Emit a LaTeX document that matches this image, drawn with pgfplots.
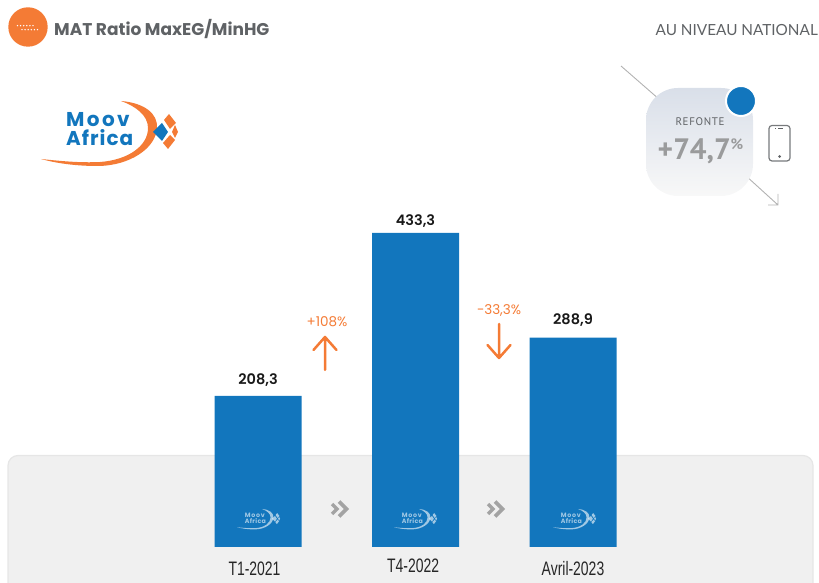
\documentclass[border=0pt]{standalone}
\usepackage{fontspec}
\setmainfont{Poppins}
\newfontfamily\semifont{Poppins SemiBold}
\newfontfamily\narrowfont[FakeStretch=0.715]{Liberation Sans}
\newfontfamily\latofont{Lato}
\newfontfamily\cardfont{PT Sans}
\newfontfamily\spacedfont[LetterSpace=6]{PT Sans}
\newfontfamily\logofont[LetterSpace=12]{Poppins}
\newfontfamily\logofontb[LetterSpace=5]{Poppins}
\usepackage{pgfplots}
\pgfplotsset{compat=1.18}
\usepackage{pgfplotstable}

\definecolor{barblue}{HTML}{1276BD}
\definecolor{moovorange}{HTML}{F47B35}
\definecolor{titlegrey}{HTML}{5F6265}
\definecolor{panelgrey}{HTML}{F0F0F0}
\definecolor{panelline}{HTML}{E6E6E6}
\definecolor{chevgrey}{HTML}{A3A3A3}
\definecolor{pctgrey}{HTML}{9A9B9C}
\definecolor{cardA}{HTML}{D9DFE9}
\definecolor{cardB}{HTML}{F8F8F8}

\pgfplotstableread{
x y dy
0 208.3 6
1 433.3 2
2 288.9 8
}\ratiotable

% logo drawn in picture pixels, #1 swoosh colour, #2 letters and diamond
\newcommand{\moovlogo}[2]{%
  \fill[#1] (121,101) .. controls (145,103) and (158,114) .. (157,128)
    .. controls (156,148) and (130,166) .. (97,166)
    .. controls (75,166) and (55,163) .. (41,159)
    .. controls (60,161) and (80,163) .. (100,162)
    .. controls (128,160) and (148,146) .. (148,128)
    .. controls (148,115) and (135,106) .. (121,101) -- cycle;
  \fill[#1] (169,114) -- (176,123) -- (170,129) -- (164,120) -- cycle;
  \fill[#1] (175,125) -- (178,132) -- (175,138) -- (172,132) -- cycle;
  \fill[#1] (170,135) -- (175,140) -- (168,149) -- (163,143) -- cycle;
  \fill[#2] (162,123) -- (168,132) -- (162,141) -- (153,132) -- cycle;
  \node[text=#2,anchor=west,inner sep=0pt,font=\logofont\bfseries\fontsize{20}{20}\selectfont] at (66,120) {Moov};
  \node[text=#2,anchor=west,inner sep=0pt,font=\logofontb\bfseries\fontsize{20}{20}\selectfont] at (66,138) {Africa};
}
\newcommand{\watermark}[1]{%
  \begin{scope}[shift={(#1,509)},scale=0.314,shift={(-41,-101)},transform shape,opacity=0.6]
    \moovlogo{white}{white}
  \end{scope}
}
\newcommand{\chevrons}[1]{%
  \begin{scope}[shift={(#1,0)}]
    \draw[chevgrey,line width=3.2pt] (332,504) -- (337,509) -- (332,514);
    \draw[chevgrey,line width=3.6pt] (339,501.5) -- (346.5,509) -- (339,516.5);
  \end{scope}
}

\begin{document}
\begin{tikzpicture}
\useasboundingbox (0,0) rectangle (819pt,583pt);

% panel behind the bars
\begin{scope}[x=1pt,y=-1pt,yshift=583pt]
\draw[panelline,fill=panelgrey,line width=1.2pt,rounded corners=10pt]
  (8,590) -- (8,455.5) -- (813,455.5) -- (813,590);
\end{scope}

\begin{axis}[
  at={(100.5pt,36pt)}, anchor=south west,
  scale only axis, width=630pt, height=362.5pt,
  xmin=-1, xmax=3, ymin=0, ymax=500,
  clip=false,
  axis y line=none,
  axis x line*=bottom,
  x axis line style={draw=none},
  xtick style={draw=none},
  xtick={-0.022,0.985,2},
  xticklabels={T1-2021,\raisebox{3pt}{T4-2022},Avril-2023},
  xticklabel style={anchor=base,yshift=-24pt,text=black!85,font=\narrowfont\fontsize{19.5}{20}\selectfont},
  ybar, bar width=87pt,
  nodes near coords,
  visualization depends on={\thisrow{dy} \as \dy},
  every node near coord/.append style={yshift=\dy pt,font=\semifont\fontsize{14.5}{15}\selectfont,text=black!90},
  /pgf/number format/.cd, fixed, fixed zerofill, precision=1, use comma, assume math mode=true,
]
\addplot[fill=barblue,draw=none] table[x=x,y=y] {\ratiotable};
\end{axis}

\begin{scope}[x=1pt,y=-1pt,yshift=583pt]
\watermark{237}
\watermark{394}
\watermark{553}
\chevrons{0}
\chevrons{156}

% title row
\fill[moovorange] (28,27) circle (19.7);
\foreach \i in {0,...,5} {
  \fill[white] (17.5+\i*3.1,25.7) circle (0.8);
  \fill[white] (22+\i*3.1,29.7) circle (0.8);
}
\node[anchor=west,inner sep=0pt,text=titlegrey,font=\bfseries\fontsize{17}{18}\selectfont] at (54,29) {MAT Ratio MaxEG/MinHG};
\node[anchor=east,inner sep=0pt,text=titlegrey,font=\latofont\fontsize{15.3}{18}\selectfont] at (818,30) {AU NIVEAU NATIONAL};

% operator logo
\moovlogo{moovorange}{barblue}

% variations
\node[text=moovorange,font=\fontsize{13.5}{14}\selectfont] at (327,322) {+108\%};
\node[text=moovorange,font=\fontsize{13.5}{14}\selectfont] at (499,310) {−33,3\%};
\draw[moovorange,line width=2.5pt,line cap=round,line join=round]
  (325,370) -- (325,337) (313.5,350) -- (325,337) -- (336.5,350);
\draw[moovorange,line width=2.5pt,line cap=round,line join=round]
  (499,324) -- (499,358) (487.5,345) -- (499,358) -- (510.5,345);

% redesign card
\draw[black!30,line width=0.9pt] (621,66) -- (660,100);
\draw[black!30,line width=0.9pt] (745,175) -- (778,205) (768,205) -- (778,205) -- (778,194);
\shade[rounded corners=32pt,shading=axis,shading angle=45,top color=cardA,bottom color=cardB]
  (646,88) rectangle (753,196);
\fill[barblue,draw=white,line width=2pt] (741,101) circle (15);
\node[text=titlegrey,font=\spacedfont\fontsize{11}{12}\selectfont] at (700,122) {REFONTE};
\node[anchor=base west,inner sep=0pt,text=pctgrey,font=\cardfont\bfseries\fontsize{29.5}{30}\selectfont] at (657.5,160) {+74,7};
\node[anchor=base west,inner sep=0pt,text=pctgrey,font=\cardfont\bfseries\fontsize{15}{15}\selectfont] at (730.5,150) {\%};

% phone
\draw[titlegrey!85,line width=1.2pt,rounded corners=3pt] (769,125.5) rectangle (790,161);
\fill[titlegrey] (779.5,156.5) circle (1.5);
\draw[titlegrey,line width=1pt] (775,128.5) -- (776,128.5) (778,128.5) -- (783,128.5);
\end{scope}
\end{tikzpicture}
\end{document}
